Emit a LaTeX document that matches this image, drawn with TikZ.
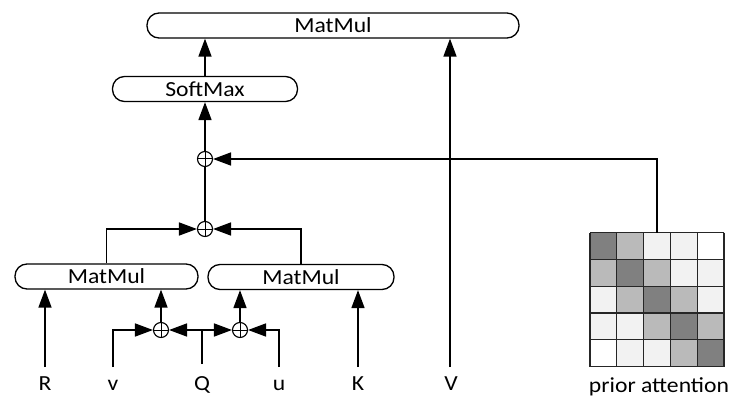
\documentclass[tikz,border=0pt]{standalone}
\usepackage{fontspec}
\setmainfont{Carlito}[FakeStretch=1.1]
\usetikzlibrary{arrows.meta}
\definecolor{cD}{gray}{0.5}
\definecolor{cL}{gray}{0.73}
\definecolor{cVL}{gray}{0.95}
\begin{document}
\begin{tikzpicture}[x=1pt,y=-1pt,
  lbl/.style={font=\fontsize{21.5}{23}\selectfont, inner sep=0pt},
  opbox/.style={draw, line width=1.3pt, rounded corners=12pt, inner sep=0pt, minimum height=25pt, font=\fontsize{21.5}{23}\selectfont},
  addop/.style={draw, circle, line width=1.1pt, minimum size=15pt, inner sep=0pt,
    path picture={\draw[line width=1pt] (path picture bounding box.north) -- (path picture bounding box.south) (path picture bounding box.west) -- (path picture bounding box.east);}},
  conn/.style={line width=1.6pt},
  arr/.style={conn, -{Triangle[length=18pt,width=13pt]}},
  cell/.style={draw=black!85, line width=1.2pt}]
\useasboundingbox (0,0) rectangle (734,401);

% operation boxes
\node[opbox, minimum width=372pt] (top) at (333,25.5) {MatMul};
\node[opbox, minimum width=185pt] (soft) at (205,89) {SoftMax};
\node[opbox, minimum width=183pt] (mm1) at (106.5,276.5) {MatMul};
\node[opbox, minimum width=186pt] (mm2) at (301,277) {MatMul};

% adders
\node[addop] (pU) at (205,159) {};
\node[addop] (pL) at (205,229) {};
\node[addop] (pa) at (161,330) {};
\node[addop] (pb) at (240,330) {};

% prior attention matrix
\node[minimum size=134pt, inner sep=0pt, outer sep=0pt] (mat) at (657,299.5) {};
\foreach \i in {0,...,4}{\foreach \j in {0,...,4}{
  \pgfmathtruncatemacro{\dd}{abs(\i-\j)}
  \ifcase\dd \def\cc{cD}\or \def\cc{cL}\or \def\cc{cVL}\or \def\cc{cVL}\else \def\cc{white}\fi
  \fill[\cc] ({590+\j*26.8},{232.5+\i*26.8}) rectangle ++(26.8,26.8);
}}
\foreach \k in {0,...,5}{
  \draw[cell] ({590+\k*26.8},232.5) -- ++(0,134);
  \draw[cell] (590,{232.5+\k*26.8}) -- ++(134,0);
}

% input coordinates and labels
\coordinate (cR) at (45,367);
\coordinate (cv) at (113,367);
\coordinate (cQ) at (202,364);
\coordinate (cu) at (279,367);
\coordinate (cK) at (358,367);
\coordinate (cV) at (450,367);
\node[lbl, anchor=base] (lR) at (45,390) {R};
\node[lbl, anchor=base] (lv) at (113,390) {v};
\node[lbl, anchor=base] (lQ) at (202,390) {Q};
\node[lbl, anchor=base] (lu) at (279,390) {u};
\node[lbl, anchor=base] (lK) at (358,390) {K};
\node[lbl, anchor=base] (lV) at (451,390) {V};
\node[lbl, anchor=base] (lP) at (659,392) {prior attention};

% connectors
\draw[arr] (soft.north) -- (soft.north |- top.south);
\draw[arr] (cV) -- (cV |- top.south);
\draw[arr] (pU) -- (soft.south);
\draw[conn] (pL) -- (pU);
\draw[arr] (mat.north) |- (pU);
\draw[arr] (mm1.north) |- (pL);
\draw[arr] (mm2.north) |- (pL);
\draw[arr] (pa) -- (pa |- mm1.south);
\draw[arr] (pb) -- (pb |- mm2.south);
\draw[arr] (cR) -- (cR |- mm1.south);
\draw[arr] (cK) -- (cK |- mm2.south);
\draw[arr] (cv) |- (pa);
\draw[arr] (cu) |- (pb);
\coordinate (qj) at (cQ |- pa);
\draw[conn] (cQ) -- (qj);
\draw[arr] (qj) -- (pa);
\draw[arr] (qj) -- (pb);
\end{tikzpicture}
\end{document}
